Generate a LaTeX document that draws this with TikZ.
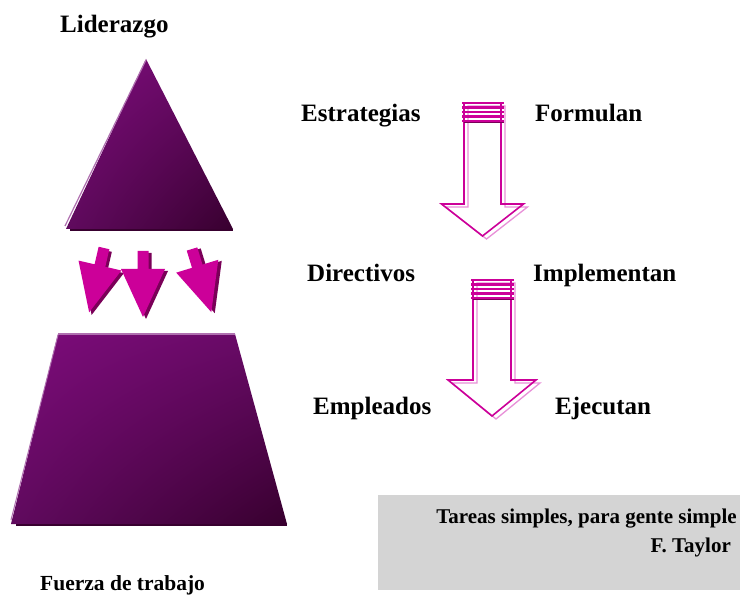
\documentclass[tikz,border=0pt]{standalone}
\usepackage{fontspec}
\setmainfont{Liberation Serif}
\usetikzlibrary{calc,shadings}
\definecolor{plA}{HTML}{7E0C7C}
\definecolor{plB}{HTML}{650A63}
\definecolor{plC}{HTML}{600A5E}
\definecolor{plD}{HTML}{38002F}
\definecolor{plEdge}{HTML}{B070B0}
\definecolor{mag}{HTML}{CC0099}
\definecolor{magdark}{HTML}{7A0058}
\definecolor{maglight}{HTML}{E890D8}
\definecolor{boxgray}{HTML}{D4D4D4}
\tikzset{
  lbl/.style={inner sep=0pt, anchor=base west, font=\bfseries\fontsize{25}{28}\selectfont},
  smalllbl/.style={inner sep=0pt, anchor=base east, font=\bfseries\fontsize{21}{24}\selectfont},
  plshade/.style={upper left=plA, upper right=plB, lower left=plC, lower right=plD},
  smallarrow/.style={fill=mag},
  smallshadow/.style={fill=magdark},
}
\newcommand{\smallarrowshape}{(-5.5,0) -- (5.5,0) -- (5.5,18) -- (22,18) -- (0,66) -- (-22,18) -- (-5.5,18) -- cycle}
\newcommand{\bigarrow}[6]{% left, right, top, shoulder, headhalf, tip
  \pgfmathsetmacro{\cx}{(#1+#2)/2}
  \draw[maglight, line width=1.3pt, fill=white, line join=miter]
    ($(#1,#3)+(4,3)$) -- ($(#1,#4)+(4,3)$) -- ($(\cx-#5,#4)+(4,3)$) -- ($(\cx,#6)+(4,3)$) -- ($(\cx+#5,#4)+(4,3)$) -- ($(#2,#4)+(4,3)$) -- ($(#2,#3)+(4,3)$) -- cycle;
  \draw[mag, line width=1.6pt, line join=miter]
    (#1,#3) -- (#1,#4) -- (\cx-#5,#4) -- (\cx,#6) -- (\cx+#5,#4) -- (#2,#4) -- (#2,#3) -- cycle;
  \foreach \k in {0,...,4}{
    \draw[mag, line width=2.6pt] (#1-2,#3+\k*4.5) -- (#2+3,#3+\k*4.5);
  }
  \draw[magdark, line width=1pt] (#1,#3+20) -- (#2+3,#3+20);
}
\begin{document}
\begin{tikzpicture}[x=1pt,y=-1pt]
\useasboundingbox (0,0) rectangle (740,596);
\fill[white] (0,0) rectangle (740,596);

% quote box
\fill[boxgray] (378,495) rectangle (740,590);

% triangle
\shade[plshade] (146,59) -- (233,229) -- (66,229) -- cycle;
\draw[plEdge, line width=1.2pt] (146,60) -- (65,226);
\draw[plD, line width=1.5pt] (70,230) -- (233,230);

% trapezoid
\shade[plshade] (58,334) -- (235,334) -- (287,524) -- (11,524) -- cycle;
\draw[plEdge, line width=1.2pt] (58,334) -- (235,334);
\draw[plEdge, line width=1pt] (58,335) -- (11,520);
\draw[plD, line width=1.5pt] (16,525) -- (287,525);

% small arrows
\begin{scope}[shift={(104,248)}, rotate=-13]
  \fill[smallshadow] [shift={(3,2)}] \smallarrowshape;
  \fill[smallarrow] \smallarrowshape;
\end{scope}
\begin{scope}[shift={(143,251)}]
  \fill[smallshadow] [shift={(3,2)}] \smallarrowshape;
  \fill[smallarrow] \smallarrowshape;
\end{scope}
\begin{scope}[shift={(192,249)}, rotate=17]
  \fill[smallshadow] [shift={(3,2)}] \smallarrowshape;
  \fill[smallarrow] \smallarrowshape;
\end{scope}

% big hollow arrows
\bigarrow{464}{501}{103}{204}{41}{236}
\bigarrow{473}{511}{280}{380}{44}{416}

% labels
\node[lbl] (lid) at (60,33) {Liderazgo};
\node[lbl] (est) at (301,122) {Estrategias};
\node[lbl] (for) at (535,122) {Formulan};
\node[lbl] (dir) at (307,282) {Directivos};
\node[lbl] (imp) at (533,282) {Implementan};
\node[lbl] (emp) at (313,415) {Empleados};
\node[lbl] (eje) at (555,415) {Ejecutan};
\node[lbl, font=\bfseries\fontsize{21.5}{26}\selectfont] (fue) at (40,590) {Fuerza de trabajo};
\node[smalllbl] (q1) at (737,523) {Tareas simples, para gente simple};
\node[smalllbl] (q2) at (731,552) {F. Taylor};
\end{tikzpicture}
\end{document}
